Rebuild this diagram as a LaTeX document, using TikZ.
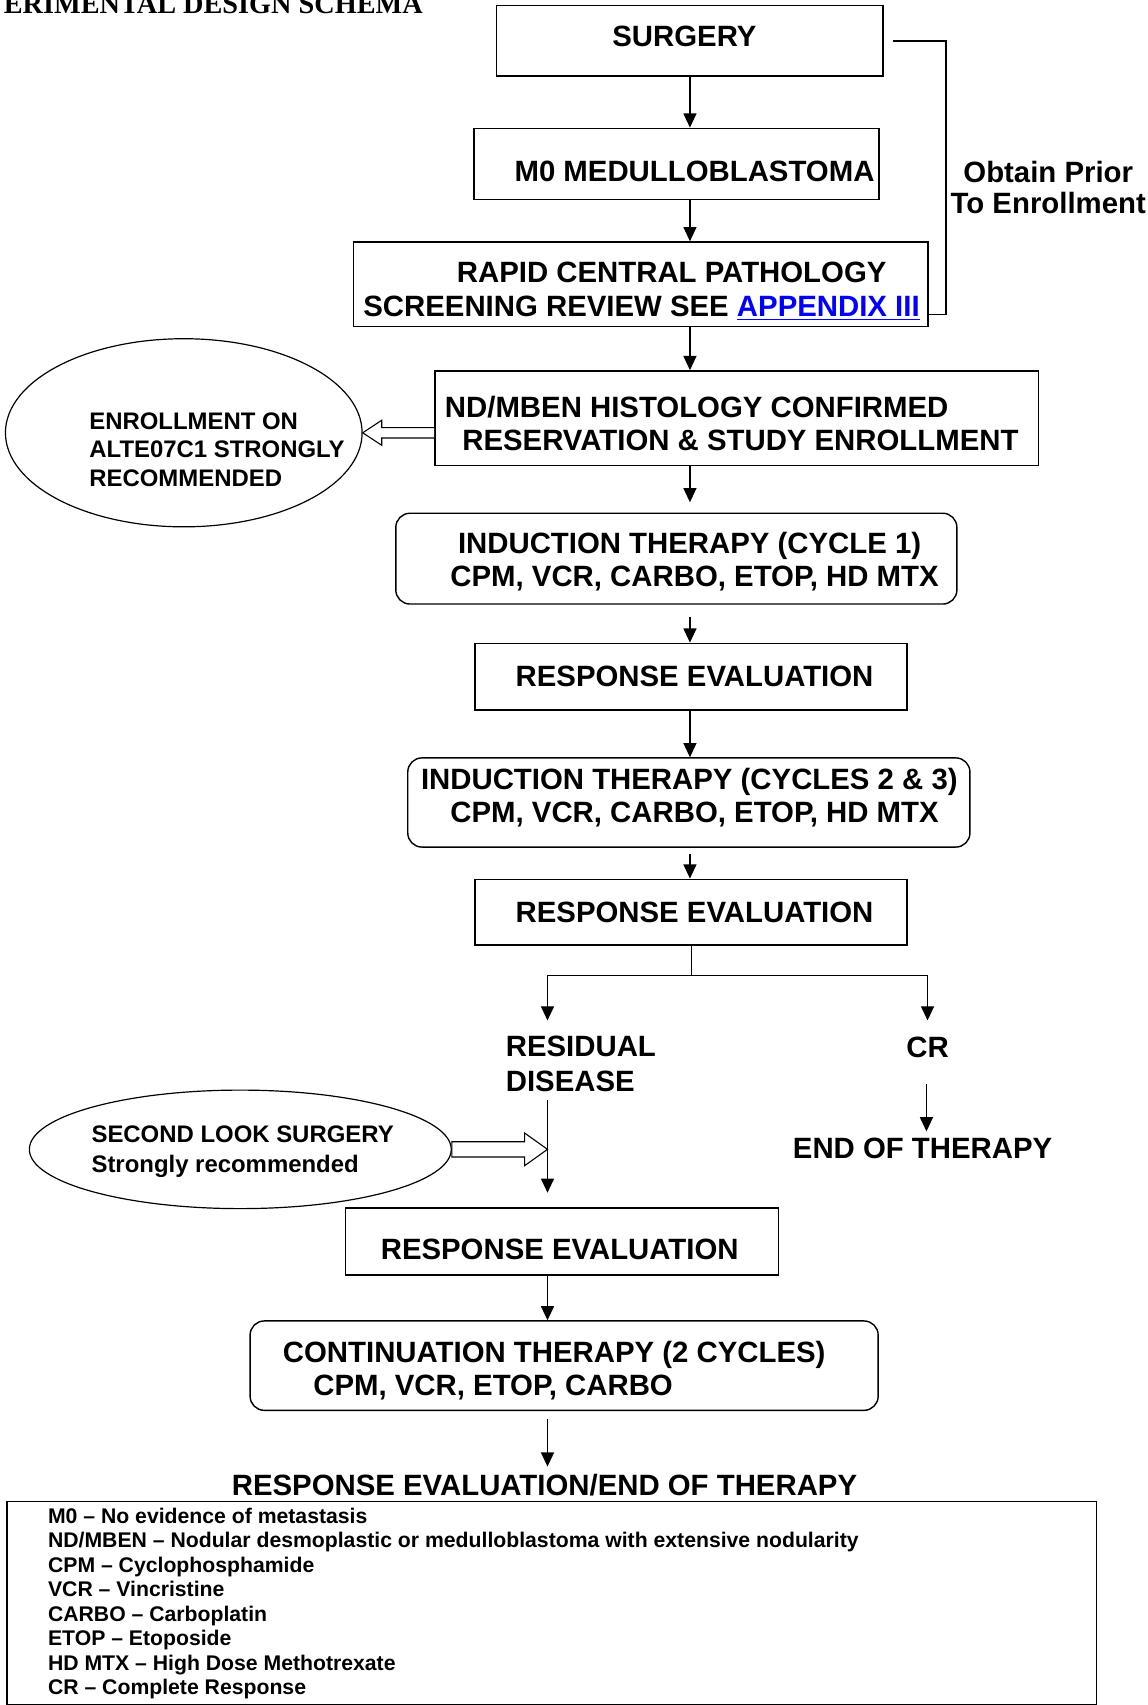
\documentclass[tikz,border=0pt]{standalone}
\usepackage{fontspec}
\setmainfont{Liberation Sans}
\newfontfamily\titlefont{Liberation Serif}
\usetikzlibrary{arrows.meta,shapes.geometric,calc}
\newcommand\myul[1]{\leavevmode\setbox0\hbox{#1}\rlap{\rule[-3.7pt]{\wd0}{1.5pt}}\box0}
\tikzset{
  bx/.style={draw, line width=1.3pt, inner sep=0pt},
  rbx/.style={bx, rounded corners=13pt},
  ell/.style={draw, ellipse, line width=1.1pt, inner sep=0pt},
  tA/.style={inner sep=0pt, anchor=base west, font=\bfseries\fontsize{27}{31}\selectfont},
  tAc/.style={tA, anchor=base},
  tB/.style={inner sep=0pt, anchor=base west, font=\bfseries\fontsize{22}{26}\selectfont},
  tC/.style={inner sep=0pt, anchor=base west, font=\bfseries\fontsize{19.5}{22}\selectfont},
  arr/.style={line width=1.1pt, -{Triangle[length=13pt,width=12pt]}},
  ln/.style={line width=1.1pt},
  holl/.style={line width=1pt, fill=white, line join=miter}
}
\begin{document}
\begin{tikzpicture}[x=1pt,y=-1pt]
\useasboundingbox (0,0) rectangle (1055,1568);
\clip (0,0) rectangle (1055,1568);

% title (cut at the page edge, as in the reference)
\node[inner sep=0pt, anchor=base east, font=\titlefont\bfseries\fontsize{26}{30}\selectfont] (title) at (389,12) {ERIMENTAL DESIGN SCHEMA};

% spine coordinates
\coordinate (sp) at (634.5,0);
\coordinate (sq) at (503.5,0);

% boxes
\node[bx, minimum width=355.5pt, minimum height=64.8pt] (surgery) at (634.25,37.6) {};
\node[bx, minimum width=372.5pt, minimum height=65.3pt] (m0) at (622.25,150.65) {};
\node[bx, minimum width=528.5pt, minimum height=78pt] (rapid) at (589.25,261.5) {};
\node[bx, minimum width=555pt, minimum height=87pt] (nd) at (677.5,384.5) {};
\node[rbx, minimum width=516pt, minimum height=83.5pt] (ind1) at (622,513.75) {};
\node[bx, minimum width=397pt, minimum height=61.4pt] (re1) at (635.5,622.3) {};
\node[rbx, minimum width=517pt, minimum height=82pt] (ind2) at (633.5,738) {};
\node[bx, minimum width=397pt, minimum height=60.4pt] (re2) at (635.5,838.8) {};
\node[bx, minimum width=398.3pt, minimum height=61.7pt] (re3) at (516.85,1141.85) {};
\node[rbx, minimum width=577.6pt, minimum height=82.2pt] (cont) at (518.8,1255.9) {};
\node[bx, minimum width=1002pt, minimum height=187pt] (legend) at (507.5,1474.5) {};

% ellipses
\node[ell, minimum width=328pt, minimum height=173pt] (ell1) at (169,398) {};
\node[ell, minimum width=388pt, minimum height=109pt] (ell2) at (221,1057) {};

% box texts
\node[tA] (surgeryT) at (563,42.5) {SURGERY};
\node[tA] (m0T) at (473,166.7) {M0 MEDULLOBLASTOMA};
\node[tA] (rapidA) at (420,260) {RAPID CENTRAL PATHOLOGY};
\node[tA] (rapidB) at (334,291) {SCREENING REVIEW SEE \textcolor{blue}{\myul{APPENDIX III}}};
\node[tAc] (obtainA) at (964,167.4) {Obtain Prior};
\node[tAc] (obtainB) at (964,196) {To Enrollment};
\node[tA] (ndA) at (409,383.7) {ND/MBEN HISTOLOGY CONFIRMED};
\node[tA] (ndB) at (425,414.7) {RESERVATION \& STUDY ENROLLMENT};
\node[tA] (ind1A) at (421,508.7) {INDUCTION THERAPY (CYCLE 1)};
\node[tA] (ind1B) at (414,539.7) {CPM, VCR, CARBO, ETOP, HD MTX};
\node[tA] (re1T) at (474,631.7) {RESPONSE EVALUATION};
\node[tA] (ind2A) at (387,725.7) {INDUCTION THERAPY (CYCLES 2 \& 3)};
\node[tA] (ind2B) at (414,756.7) {CPM, VCR, CARBO, ETOP, HD MTX};
\node[tA] (re2T) at (474,848.7) {RESPONSE EVALUATION};
\node[tA] (residA) at (465,972) {RESIDUAL};
\node[tA] (residB) at (465,1003.5) {DISEASE};
\node[tAc] (crT) at (853,972.5) {CR};
\node[tA] (endT) at (729,1065.5) {END OF THERAPY};
\node[tA] (re3T) at (350,1158.7) {RESPONSE EVALUATION};
\node[tA] (contA) at (260,1253) {CONTINUATION THERAPY (2 CYCLES)};
\node[tA] (contB) at (288,1283) {CPM, VCR, ETOP, CARBO};
\node[tA] (finalT) at (213,1375.5) {RESPONSE EVALUATION/END OF THERAPY};

% ellipse texts
\node[tB] (e1A) at (82,395) {ENROLLMENT ON};
\node[tB] (e1B) at (82,421) {ALTE07C1 STRONGLY};
\node[tB] (e1C) at (82,447) {RECOMMENDED};
\node[tB] (e2A) at (84,1051) {SECOND LOOK SURGERY};
\node[tB] (e2B) at (84,1078) {Strongly recommended};

% legend texts
\node[tC] (lg1) at (44,1401) {M0 – No evidence of metastasis};
\node[tC] (lg2) at (44,1423.5) {ND/MBEN – Nodular desmoplastic or medulloblastoma with extensive nodularity};
\node[tC] (lg3) at (44,1446) {CPM – Cyclophosphamide};
\node[tC] (lg4) at (44,1468.5) {VCR – Vincristine};
\node[tC] (lg5) at (44,1491) {CARBO – Carboplatin};
\node[tC] (lg6) at (44,1513.5) {ETOP – Etoposide};
\node[tC] (lg7) at (44,1536) {HD MTX – High Dose Methotrexate};
\node[tC] (lg8) at (44,1558.5) {CR – Complete Response};

% bracket "obtain prior to enrollment"
\coordinate (brS) at ([xshift=9pt]surgery.east);
\coordinate (brE) at ([yshift=-28pt]rapid.east);
\draw[line width=1.2pt] (brS) -- (870,0 |- brS) -- (870,0 |- brE) -- (brE);

% main spine arrows
\draw[arr] (sp |- surgery.south) -- (sp |- m0.north);
\draw[arr] (sp |- m0.south) -- (sp |- rapid.north);
\draw[arr] (sp |- rapid.south) -- (sp |- nd.north);
\draw[arr, shorten >=9.5pt] (sp |- nd.south) -- (sp |- ind1.north);
\draw[arr, shorten <=11pt] (sp |- ind1.south) -- (sp |- re1.north);
\draw[arr] (sp |- re1.south) -- (sp |- ind2.north);
\draw[arr, shorten <=6pt] (sp |- ind2.south) -- (sp |- re2.north);

% split
\coordinate (jL) at (503.5,897);
\coordinate (jR) at (853,897);
\draw[ln] ([xshift=1.5pt]sp |- re2.south) -- ([xshift=1.5pt]sp |- jL);
\draw[ln] (jL) -- (jR);
\draw[arr, shorten >=14.5pt] (jL) -- (jL |- residA.north);
\draw[arr, shorten >=15pt] (jR) -- (jR |- crT.north);
\draw[arr, shorten <=7.5pt, shorten >=13.5pt] (sq |- residB.south) -- (sq |- re3.north);
\draw[arr, shorten <=24pt, shorten >=6pt] ([xshift=-1pt]crT.south) -- ([xshift=-1pt]crT.south |- endT.north);
\draw[arr] (sq |- re3.south) -- (sq |- cont.north);
\draw[arr, shorten <=7pt, shorten >=7pt] (sq |- cont.south) -- (sq |- finalT.north);

% hollow arrows
\draw[holl] let \p1=(ell1.east), \p2=(nd.west) in
  (\x2,\y1+4.8pt) -- (\x1+17.5pt,\y1+4.8pt) -- (\x1+17.5pt,\y1+11.5pt) -- (\x1,\y1)
  -- (\x1+17.5pt,\y1-11.5pt) -- (\x1+17.5pt,\y1-4.8pt) -- (\x2,\y1-4.8pt);
\draw[holl] let \p1=(ell2.east), \p2=(sq) in
  (\x1,\y1+7pt) -- (\x2-21pt,\y1+7pt) -- (\x2-21pt,\y1+15pt) -- (\x2,\y1)
  -- (\x2-21pt,\y1-15pt) -- (\x2-21pt,\y1-7pt) -- (\x1,\y1-7pt) -- cycle;
\end{tikzpicture}
\end{document}
